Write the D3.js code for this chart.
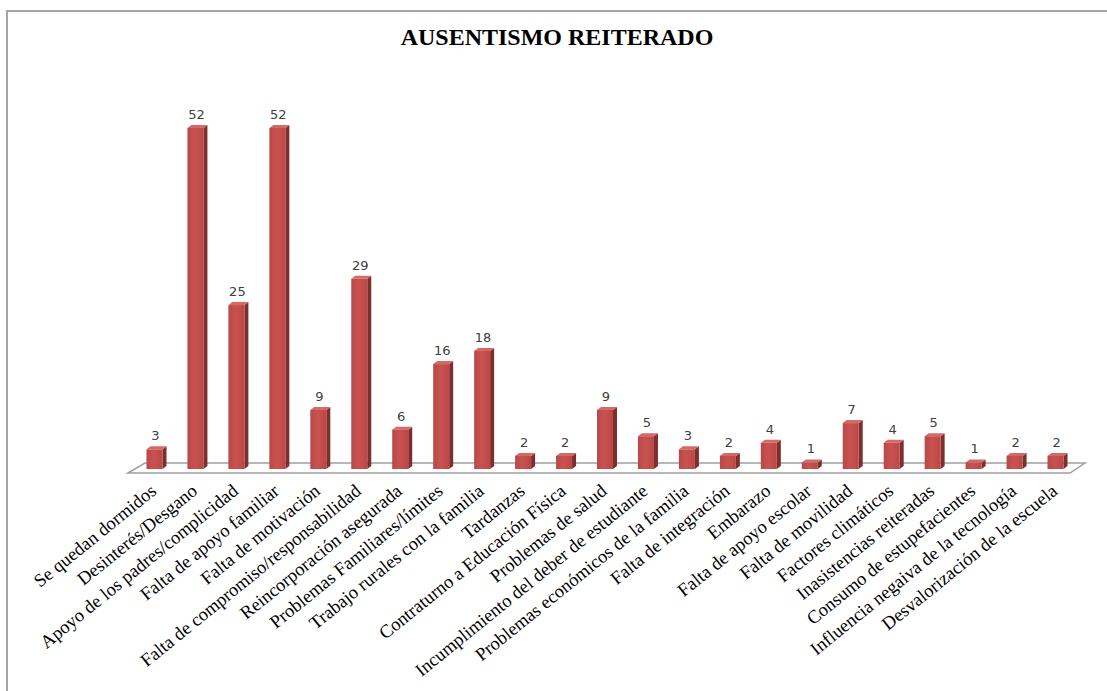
<!DOCTYPE html>
<html lang="es">
<head>
<meta charset="UTF-8">
<title>Ausentismo reiterado</title>
<script src="https://d3js.org/d3.v7.min.js"></script>
<style>
  body { margin: 0; background: #fff; }
  svg { display: block; }
</style>
</head>
<body>
<svg width="1107" height="691"></svg>
<script>
const categories = [
  'Se quedan dormidos', 'Desinterés/Desgano', 'Apoyo de los padres/complicidad',
  'Falta de apoyo familiar', 'Falta de motivación', 'Falta de compromiso/responsabilidad',
  'Reincorporación asegurada', 'Problemas Familiares/límites', 'Trabajo rurales con la familia',
  'Tardanzas', 'Contraturno a Educación Física', 'Problemas de salud',
  'Incumplimiento del deber de estudiante', 'Problemas económicos de la familia',
  'Falta de integración', 'Embarazo', 'Falta de apoyo escolar', 'Falta de movilidad',
  'Factores climáticos', 'Inasistencias reiteradas', 'Consumo de estupefacientes',
  'Influencia negaiva de la tecnología', 'Desvalorización de la escuela'
];
const values = [3, 52, 25, 52, 9, 29, 6, 16, 18, 2, 2, 9, 5, 3, 2, 4, 1, 7, 4, 5, 1, 2, 2];
const chartTitle = 'AUSENTISMO REITERADO';

const svg = d3.select('svg');
const baseY = 469;
const barW = 16, depthX = 4, depthY = 3;

const x = d3.scaleBand().domain(categories).range([134, 1076]);
const y = d3.scaleLinear().domain([0, 52]).range([baseY, 128]);

// outer frame (top and left edges visible)
svg.append('path')
  .attr('d', 'M7,691 L7,11 L1107,11')
  .attr('fill', 'none').attr('stroke', '#a6a6a6').attr('stroke-width', 2);

svg.append('text')
  .attr('x', 557).attr('y', 45)
  .attr('text-anchor', 'middle')
  .attr('font-family', 'Liberation Serif, Times New Roman, serif')
  .attr('font-weight', 'bold').attr('font-size', 24)
  .attr('fill', '#000')
  .text(chartTitle);

// floor
svg.append('polygon')
  .attr('points', '128,473 145,463 1085,463 1070,473')
  .attr('fill', '#fff').attr('stroke', '#a0a0a0').attr('stroke-width', 1.5);

const defs = svg.append('defs');
const grad = defs.append('linearGradient').attr('id', 'front').attr('x1', 0).attr('x2', 1);
grad.append('stop').attr('offset', '0%').attr('stop-color', '#b8484a');
grad.append('stop').attr('offset', '45%').attr('stop-color', '#c9524f');
grad.append('stop').attr('offset', '100%').attr('stop-color', '#bb4845');

const bars = svg.selectAll('.bar').data(categories.map((c, i) => ({ c, v: values[i] })))
  .enter().append('g').attr('class', 'bar');

const cx = d => x(d.c) + x.bandwidth() / 2;

bars.append('polygon')
  .attr('points', d => {
    const l = cx(d) + barW / 2, t = y(d.v);
    return [[l, t], [l + depthX, t - depthY], [l + depthX, baseY - depthY], [l, baseY]].join(' ');
  })
  .attr('fill', '#7e2f2d');

bars.append('polygon')
  .attr('points', d => {
    const l = cx(d) - barW / 2, t = y(d.v);
    return [[l, t], [l + depthX, t - depthY], [l + barW + depthX, t - depthY], [l + barW, t]].join(' ');
  })
  .attr('fill', '#d46a66');

bars.append('rect')
  .attr('x', d => cx(d) - barW / 2)
  .attr('y', d => y(d.v))
  .attr('width', barW)
  .attr('height', d => baseY - y(d.v))
  .attr('fill', 'url(#front)');

bars.append('text')
  .attr('x', d => cx(d) + 1)
  .attr('y', d => y(d.v) - 9)
  .attr('text-anchor', 'middle')
  .attr('font-family', 'DejaVu Sans, Arial, sans-serif')
  .attr('font-size', 13)
  .attr('fill', '#404040')
  .text(d => d.v);

svg.selectAll('.lbl').data(categories).enter().append('text')
  .attr('class', 'lbl')
  .attr('text-anchor', 'end')
  .attr('font-family', 'Liberation Serif, Times New Roman, serif')
  .attr('font-size', 18.5)
  .attr('fill', '#000')
  .attr('transform', c => `translate(${x(c) + x.bandwidth() / 2 + 3},${493}) rotate(-39)`)
  .text(c => c);
</script>
</body>
</html>
